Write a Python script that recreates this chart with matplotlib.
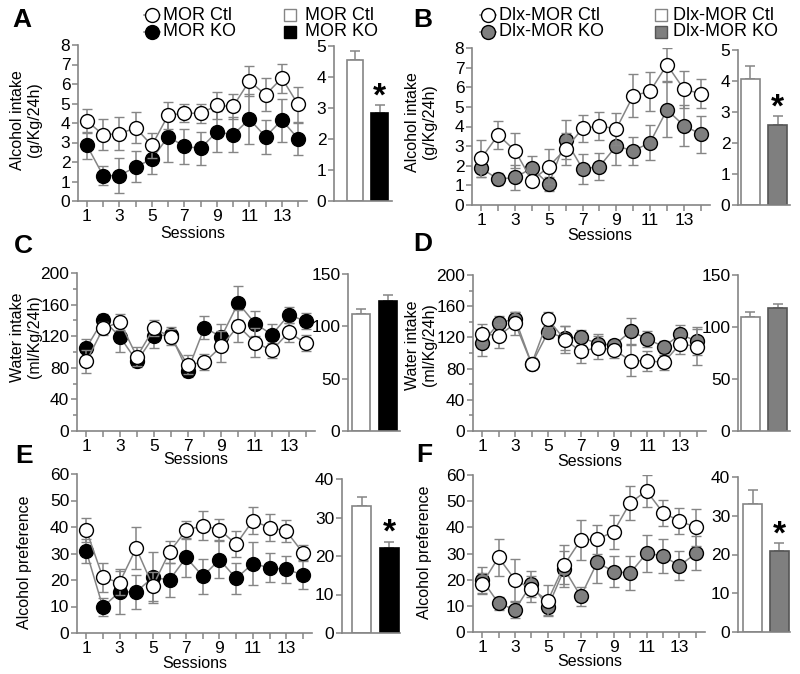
import numpy as np
import matplotlib
matplotlib.use("Agg")
import matplotlib.pyplot as plt
from matplotlib.ticker import MultipleLocator

plt.rcParams["font.family"] = ["Liberation Sans", "DejaVu Sans"]

sessions = np.arange(1, 15)
odd_labels = [str(s) if s % 2 == 1 else "" for s in sessions]

# A - alcohol intake, MOR
a_ctl = [4.1, 3.4, 3.45, 3.75, 2.85, 4.4, 4.5, 4.5, 4.9, 4.85, 6.15, 5.45, 6.3, 4.95]
a_ctl_err = [0.6, 0.8, 0.85, 0.8, 0.65, 0.7, 0.45, 0.5, 0.7, 0.65, 0.75, 0.85, 0.75, 0.9]
a_ko = [2.85, 1.3, 1.3, 1.75, 2.15, 3.3, 2.8, 2.7, 3.55, 3.4, 4.2, 3.3, 4.15, 3.2]
a_ko_err = [0.7, 0.47, 0.9, 0.8, 0.75, 1.3, 0.9, 0.85, 1.05, 0.9, 1.3, 0.87, 1.1, 0.82]
a_bar = [4.55, 2.85]
a_bar_err = [0.28, 0.25]

# B - alcohol intake, Dlx-MOR
b_ctl = [2.38, 3.57, 2.77, 1.24, 1.96, 2.86, 3.9, 4.03, 3.88, 5.57, 5.79, 7.15, 5.9, 5.67]
b_ctl_err = [0.95, 0.7, 0.9, 0.2, 0.9, 0.8, 0.7, 0.7, 0.8, 1.1, 1.0, 0.85, 0.95, 0.75]
b_ko = [1.87, 1.31, 1.41, 1.87, 1.06, 3.32, 1.84, 1.96, 3.01, 2.76, 3.18, 4.85, 4.05, 3.61]
b_ko_err = [0.45, 0.3, 0.65, 0.65, 0.35, 1.0, 0.75, 0.7, 0.95, 0.7, 0.9, 1.4, 1.05, 0.95]
b_bar = [4.05, 2.57]
b_bar_err = [0.45, 0.3]

# C - water intake, MOR
c_ctl = [88, 130, 138, 94, 130, 119, 84, 87, 107, 133, 112, 102, 125, 111]
c_ctl_err = [14, 8, 10, 12, 10, 10, 12, 10, 20, 20, 18, 10, 12, 10]
c_ko = [105, 141, 119, 88, 120, 122, 76, 131, 119, 162, 136, 122, 147, 139]
c_ko_err = [11, 7, 19, 7, 15, 10, 8, 14, 16, 21, 16, 13, 10, 10]
c_bar = [112, 124]
c_bar_err = [5, 6]

# D - water intake, Dlx-MOR
d_ctl = [125, 122, 138, 86, 143, 117, 102, 107, 104, 90, 90, 88, 112, 108]
d_ctl_err = [12, 15, 15, 7, 10, 17, 15, 15, 10, 20, 13, 10, 13, 23]
d_ko = [113, 138, 144, 86, 127, 119, 120, 112, 110, 128, 118, 108, 124, 115]
d_ko_err = [17, 10, 8, 7, 8, 15, 10, 12, 7, 17, 10, 8, 12, 18]
d_bar = [110, 118]
d_bar_err = [4, 4]

# E - alcohol preference, MOR
e_ctl = [39, 21, 19, 32, 17.7, 30.6, 38.8, 40.5, 39, 33.5, 42.4, 39.8, 38.5, 30.3]
e_ctl_err = [4.5, 5.5, 4.5, 8, 5.5, 4, 3.5, 5.5, 4, 5, 5, 5, 4, 3]
e_ko = [31, 9.8, 15.5, 15.5, 21, 20, 28.5, 21.4, 27.7, 20.6, 26.2, 24.6, 24, 22]
e_ko_err = [4.5, 3.5, 8.5, 6.5, 9.5, 6.5, 7.5, 6.5, 7, 6, 8, 5.5, 5, 5.5]
e_bar = [33.1, 22.2]
e_bar_err = [2.2, 1.5]

# F - alcohol preference, Dlx-MOR
f_ctl = [18.4, 28.5, 20, 16.5, 12, 25.7, 35.2, 35.4, 38.4, 49.4, 53.9, 45.6, 42.4, 40]
f_ctl_err = [4, 7, 8, 5, 6, 7.5, 7.5, 5.5, 6.5, 6.5, 6, 5, 5, 7]
f_ko = [20, 11, 8.5, 18.3, 9.5, 24.1, 13.6, 26.6, 23.1, 22.5, 30.1, 29.1, 25.3, 30.1]
f_ko_err = [5, 2.5, 3, 5, 3, 7, 3.5, 8, 6, 6.5, 7, 6.5, 5.5, 6.5]
f_bar = [33.1, 20.8]
f_bar_err = [3.5, 2.1]

GRAY = "#858585"
KO_GRAY = "#7f7f7f"
W, H = 800, 674


def px(x0, y0, x1, y1):
    # pixel box -> figure fraction rect
    return [x0 / W, 1 - y1 / H, (x1 - x0) / W, (y1 - y0) / H]


def style(ax):
    for s in ["top", "right"]:
        ax.spines[s].set_visible(False)
    for s in ["left", "bottom"]:
        ax.spines[s].set_color(GRAY)
        ax.spines[s].set_linewidth(1.2)
    ax.tick_params(colors=GRAY, labelcolor="black", labelsize=12.5, length=4,
                   width=1.1, pad=1.5)
    ax.tick_params(which="minor", colors=GRAY, length=3, width=1.1)


def line_panel(ax, ctl, ctl_err, ko, ko_err, ko_col, ylim, major, minor=None):
    style(ax)
    ax.errorbar(sessions, ko, yerr=ko_err, color=GRAY, lw=1.1, capsize=3.5,
                elinewidth=1.1, capthick=1.1, marker="o", ms=10, mfc=ko_col,
                mec="black", mew=1.0, zorder=2)
    ax.errorbar(sessions, ctl, yerr=ctl_err, color=GRAY, lw=1.1, capsize=3.5,
                elinewidth=1.1, capthick=1.1, marker="o", ms=10, mfc="white",
                mec="black", mew=1.0, zorder=3)
    ax.set_xlim(0.45, 14.55)
    ax.set_ylim(*ylim)
    ax.set_xticks(sessions)
    ax.set_xticklabels(odd_labels)
    ax.yaxis.set_major_locator(MultipleLocator(major))
    if minor:
        ax.yaxis.set_minor_locator(MultipleLocator(minor))
    for s in ax.spines.values():
        s.set_zorder(1)


def bar_panel(ax, vals, errs, ko_col, ko_edge, ylim, major, xlim, width):
    style(ax)
    ax.bar([0, 1], vals, width=width, color=["white", ko_col],
           edgecolor=[GRAY, ko_edge], linewidth=1.2, zorder=2)
    ax.errorbar([0, 1], vals, yerr=[[0, 0], errs], fmt="none", ecolor=GRAY,
                elinewidth=1.1, capsize=3.5, capthick=1.1, zorder=1)
    ax.set_xlim(*xlim)
    ax.set_ylim(*ylim)
    ax.set_xticks([])
    ax.yaxis.set_major_locator(MultipleLocator(major))


def star(ax, val, err):
    ax.annotate("*", (1, val + err), xytext=(0, 6), textcoords="offset points",
                ha="center", va="center", fontsize=24, fontweight="bold")


fig = plt.figure(figsize=(8, 6.74), dpi=100)

# line panels
axA = fig.add_axes(px(78, 45, 307, 201))
line_panel(axA, a_ctl, a_ctl_err, a_ko, a_ko_err, "black", (0, 8), 1)
axB = fig.add_axes(px(472, 48, 710, 205))
line_panel(axB, b_ctl, b_ctl_err, b_ko, b_ko_err, KO_GRAY, (0, 8), 1)
axC = fig.add_axes(px(77, 273, 315, 431))
line_panel(axC, c_ctl, c_ctl_err, c_ko, c_ko_err, "black", (0, 200), 40, 20)
axD = fig.add_axes(px(473, 275, 706, 431))
line_panel(axD, d_ctl, d_ctl_err, d_ko, d_ko_err, KO_GRAY, (0, 200), 40, 20)
axE = fig.add_axes(px(77, 474, 312, 633))
line_panel(axE, e_ctl, e_ctl_err, e_ko, e_ko_err, "black", (0, 60), 10)
axF = fig.add_axes(px(473, 475, 705, 632))
line_panel(axF, f_ctl, f_ctl_err, f_ko, f_ko_err, KO_GRAY, (0, 60), 10)

# bar panels
bA = fig.add_axes(px(334, 46, 392, 201))
bar_panel(bA, a_bar, a_bar_err, "black", "black", (0, 5), 1, (-0.86, 1.5), 0.67)
star(bA, a_bar[1], a_bar_err[1])
bB = fig.add_axes(px(738, 50, 790, 205))
bar_panel(bB, b_bar, b_bar_err, KO_GRAY, "#555555", (0, 5), 1, (-0.45, 1.44), 0.69)
star(bB, b_bar[1], b_bar_err[1])
bC = fig.add_axes(px(348, 274, 400, 431))
bar_panel(bC, c_bar, c_bar_err, "black", "black", (0, 150), 50, (-0.48, 1.44), 0.685)
bD = fig.add_axes(px(738, 275, 790, 431))
bar_panel(bD, d_bar, d_bar_err, KO_GRAY, "#555555", (0, 150), 50, (-0.45, 1.44), 0.69)
bE = fig.add_axes(px(342, 479, 400, 633))
bar_panel(bE, e_bar, e_bar_err, "black", "black", (0, 40), 10, (-0.7, 1.38), 0.68)
star(bE, e_bar[1], e_bar_err[1])
bF = fig.add_axes(px(738, 477, 790, 632))
bar_panel(bF, f_bar, f_bar_err, KO_GRAY, "#555555", (0, 40), 10, (-0.54, 1.39), 0.7)
star(bF, f_bar[1], f_bar_err[1])

# overlay for text and legends, in pixel coords
ov = fig.add_axes([0, 0, 1, 1], zorder=10)
ov.set_xlim(0, W)
ov.set_ylim(H, 0)
ov.axis("off")
ov.patch.set_alpha(0)

for lbl, x, y in [("A", 22, 20), ("B", 423, 20), ("C", 23, 246),
                  ("D", 423, 244), ("E", 24, 456), ("F", 424, 455)]:
    ov.text(x, y, lbl, fontsize=19, fontweight="bold", ha="center", va="center")

ylab = dict(rotation=90, ha="center", va="center", fontsize=11.5,
            multialignment="center", linespacing=1.1)
ov.text(26, 120, "Alcohol intake\n(g/Kg/24h)", **ylab)
ov.text(421, 122, "Alcohol intake\n(g/Kg/24h)", **ylab)
ov.text(26, 337, "Water intake\n(ml/Kg/24h)", **ylab)
ov.text(421, 345, "Water intake\n(ml/Kg/24h)", **ylab)
ov.text(25, 562, "Alcohol preference", **ylab)
ov.text(424, 552, "Alcohol preference", **ylab)

for x, y in [(193, 233), (600, 235), (196, 460), (590, 461), (195, 663), (590, 662)]:
    ov.text(x, y, "Sessions", fontsize=11.5, ha="center", va="center")

# legends
def legend(xc, xt, xs, xst, names, ko_col):
    for y, fc, name in [(15, "white", names[0]), (32, ko_col, names[1])]:
        ov.plot([xc - 8, xc + 8], [y, y], color=GRAY, lw=1.1)
        ov.plot([xc], [y], marker="o", ms=10, mfc=fc, mec="black", mew=1.0)
        ov.text(xt, y, name, fontsize=13, va="center", ha="left")
        ov.plot([xs], [y], marker="s", ms=9, mfc=fc,
                mec=GRAY if fc == "white" else ("black" if fc == "black" else "#555555"),
                mew=1.0)
        ov.text(xst, y, name, fontsize=13, va="center", ha="left")


legend(152, 163, 290, 305, ["MOR Ctl", "MOR KO"], "black")
legend(488, 499, 661, 673, ["Dlx-MOR Ctl", "Dlx-MOR KO"], KO_GRAY)

fig.savefig("out.png", dpi=100)
